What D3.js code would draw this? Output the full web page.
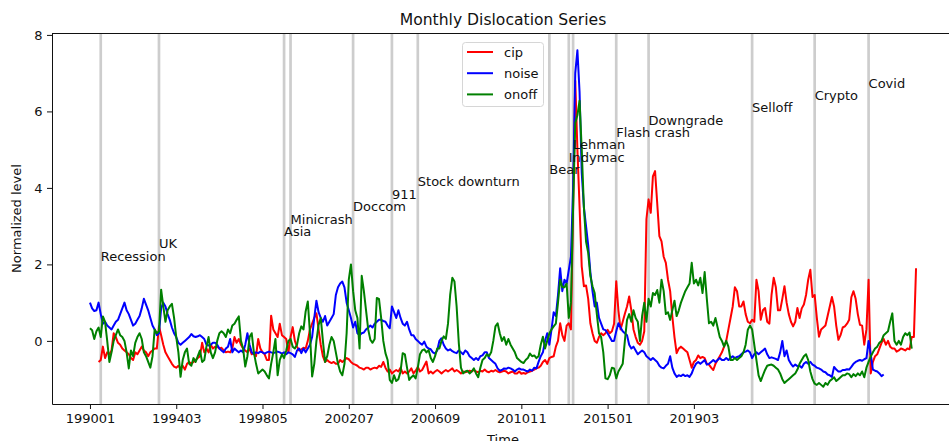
<!DOCTYPE html>
<html>
<head>
<meta charset="utf-8">
<script src="https://cdn.jsdelivr.net/npm/d3@7"></script>
<style>
  body { margin: 0; background: #fff; }
  svg { display: block; font-family: "DejaVu Sans", sans-serif; }
</style>
</head>
<body>
<svg id="chart" width="949" height="441"></svg>
<script>
// Monthly series, index 0 = 1990-01; one row per calendar year.
const tickMonths = [0, 40, 80, 120, 160, 200, 240, 280];
const tickLabels = ["199001", "199403", "199805", "200207", "200609", "201011", "201501", "201903"];
const yTicks = [0, 2, 4, 6, 8];

const cip = [
  null, null, null, null, -0.55, -0.5, -0.15, -0.45, -0.3, -0.35, -0.25, 0.2,
  0.1, -0.05, -0.1, -0.2, -0.25, -0.3, -0.35, -0.45, -0.5, -0.3, -0.35, -0.25,
  -0.15, -0.25, -0.3, -0.4, -0.3, -0.25, -0.2, -0.2, 0.38, 0.15, -0.1, -0.3,
  -0.4, -0.5, -0.6, -0.67, -0.7, -0.65, -0.72, -0.65, -0.75, -0.6, -0.55, -0.6,
  -0.55, -0.5, -0.45, -0.4, -0.05, -0.3, -0.2, -0.3, -0.1, -0.2, -0.15, -0.15,
  -0.2, -0.18, -0.25, -0.3, -0.28, -0.3, -0.2, 0.1, -0.05, 0.05, -0.1, -0.2,
  -0.25, -0.3, -0.2, -0.35, -0.3, -0.4, 0.05, -0.2, -0.3, -0.35, -0.5, -0.5,
  0.66, 0.3, 0.2, 0.1, 0.45, 0.15, 0.1, 0.05, -0.3, 0.1, 0.36, 0.0,
  -0.15, -0.25, -0.22, -0.18, -0.2, 0.0, 0.3, 0.45, 0.6, 0.72, 0.3, -0.1,
  -0.4, -0.55, -0.5, -0.55, -0.58, -0.55, -0.6, -0.6, -0.5, -0.55, -0.5, -0.45,
  -0.48, -0.55, -0.6, -0.62, -0.65, -0.7, -0.72, -0.75, -0.7, -0.7, -0.75, -0.72,
  -0.7, -0.72, -0.65, -0.68, -0.55, -0.7, -0.8, -0.75, -0.85, -0.8, -0.76, -0.8,
  -0.7, -0.85, -0.8, -0.85, -0.8, -0.72, -0.85, -0.78, -0.68, -0.8, -0.76, -0.65,
  -0.54, -0.85, -0.8, -0.85, -0.8, -0.76, -0.8, -0.85, -0.8, -0.76, -0.8, -0.76,
  -0.72, -0.8, -0.76, -0.8, -0.85, -0.8, -0.82, -0.8, -0.78, -0.8, -0.76, -0.8,
  -0.82, -0.78, -0.8, -0.75, -0.8, -0.82, -0.78, -0.8, -0.76, -0.8, -0.82, -0.8,
  -0.78, -0.8, -0.85, -0.82, -0.8, -0.85, -0.85, -0.8, -0.86, -0.84, -0.86, -0.82,
  -0.8, -0.78, -0.75, -0.72, -0.7, -0.65, -0.55, -0.5, -0.6, -0.45, -0.42, -0.4,
  -0.15, 0.0, 0.46, 0.15, 0.0, 0.4, 0.46, 0.3, 3.5, 6.8, 5.0, 3.5,
  1.95, 1.43, 1.45, 1.1, 0.46, 0.2, 0.0, -0.05, 0.1, 0.2, 0.15, 0.2,
  0.29, 0.2, 0.25, 0.45, 1.56, 0.8, 0.3, 0.5, 0.71, 0.9, 1.16, 0.8,
  0.3, 0.1, -0.05, -0.1, 0.0, 0.25, 3.18, 3.7, 3.35, 4.3, 4.44, 3.6,
  2.74, 2.6, 2.2, 2.04, 1.6, 1.3, 0.64, 0.1, -0.32, -0.2, -0.15, -0.2,
  -0.25, -0.3, -0.5, -0.7, -0.55, -0.5, -0.38, -0.45, -0.42, -0.45, -0.6, -0.62,
  -0.7, -0.76, -0.6, -0.5, -0.4, -0.3, -0.15, 0.0, 0.3, 0.6, 0.9, 1.4,
  1.3, 0.9, 0.9, 1.03, 0.7, 0.5, 0.46, 0.55, 0.5, 1.6, 1.3, 0.55,
  0.8, 0.86, 0.5, 0.45, 1.2, 1.65, 1.4, 0.8, 0.8, 1.1, 1.43, 1.0,
  0.7, 0.5, 0.38, 0.5, 0.86, 0.6, 0.85, 0.95, 1.2, 1.6, 1.86, 1.15,
  1.2, 0.6, 0.11, 0.3, 0.35, 0.4, 0.65, 0.9, 1.15, 0.9, 0.4, 0.03,
  0.15, 0.35, 0.38, 0.45, 0.55, 1.14, 1.3, 1.1, 0.7, 0.42, 0.4, -0.1,
  0.3, 1.6, -0.85, -0.55, -0.4, -0.35, -0.2, -0.05, 0.05, -0.1, 0.0, -0.15,
  -0.2, -0.2, -0.28, -0.25, -0.2, -0.22, -0.25, -0.2, -0.22, 0.1, 0.1, 1.9
];

const noise = [
  1.0, 0.85, 0.78, 0.8, 1.0, 0.7, 0.45, 0.5, 0.4, 0.35, 0.3, 0.4,
  0.5, 0.55, 0.7, 0.85, 1.0, 0.8, 0.7, 0.55, 0.4, 0.45, 0.55, 0.65,
  0.85, 1.1, 0.95, 0.8, 0.6, 0.4, 0.3, 0.15, 0.2, 0.85, 1.0, 0.9,
  0.7, 0.55, 0.35, 0.2, 0.1, -0.05, -0.1, -0.05, 0.0, 0.05, 0.1, 0.18,
  0.12, 0.1, 0.12, 0.15, 0.1, 0.05, -0.1, -0.12, -0.1, -0.05, -0.05, -0.1,
  -0.2, -0.25, -0.3, -0.2, -0.15, 0.05, -0.3, -0.2, -0.25, -0.3, -0.25, -0.3,
  -0.1, 0.2, -0.1, -0.3, -0.35, -0.3, -0.32, -0.28, -0.3, -0.33, -0.3, -0.28,
  -0.3, -0.32, -0.3, -0.28, -0.3, -0.33, -0.3, -0.35, -0.3, -0.32, -0.35, -0.42,
  -0.25, -0.2, -0.32, -0.2, -0.3, -0.2, -0.1, 0.1, 0.6, 1.05, 0.75, 0.6,
  0.5, 0.65, 0.4, 0.5, 0.6, 0.7, 1.2, 1.4, 1.5, 1.55, 1.4, 1.0,
  0.8, 0.6, 0.35, 0.5, 0.2, 0.15, 0.2, 0.22, 0.3, 0.35, 0.4, 0.35,
  0.45, 0.5, 0.55, 0.55, 0.52, 0.5, 0.4, 0.33, 0.9, 0.75, 0.6, 0.8,
  0.6, 0.45, 0.4, 0.5, 0.3, 0.15, 0.15, 0.05, 0.0, -0.06, -0.1, -0.02,
  -0.15, -0.2, -0.22, -0.3, -0.33, -0.25, 0.0, 0.07, -0.1, -0.2, -0.25, -0.22,
  -0.27, -0.3, -0.32, -0.25, -0.3, -0.35, -0.25, -0.3, -0.4, -0.45, -0.5, -0.45,
  -0.5, -0.4, -0.38, -0.3, -0.3, -0.45, -0.5, -0.55, -0.6, -0.72, -0.78, -0.76,
  -0.72, -0.73, -0.7, -0.72, -0.75, -0.8, -0.75, -0.72, -0.75, -0.75, -0.78, -0.8,
  -0.75, -0.78, -0.7, -0.72, -0.55, -0.4, -0.3, 0.0, 0.2, -0.1, 0.3, 0.75,
  0.65, 1.2, 1.9, 1.3, 1.6, 1.5, 1.85, 2.2, 4.0, 7.0, 7.6, 6.5,
  4.4, 3.5, 3.0, 2.5, 1.8, 1.3, 0.9, 1.0, 0.6, 0.45, 0.3, 0.28,
  0.2, 0.1, 0.0, 0.0, 0.25, 0.46, 0.35, 0.25, 0.2, 0.15, -0.1, -0.2,
  -0.15, -0.25, -0.35, -0.3, -0.25, -0.3, -0.4, -0.45, -0.5, -0.45, -0.5, -0.55,
  -0.65, -0.7, -0.72, -0.65, -0.6, -0.4, -0.7, -0.85, -0.94, -0.9, -0.92, -0.88,
  -0.92, -0.9, -0.94, -0.85, -0.7, -0.6, -0.55, -0.6, -0.55, -0.5, -0.62, -0.6,
  -0.55, -0.5, -0.55, -0.5, -0.45, -0.5, -0.5, -0.45, -0.5, -0.45, -0.4, -0.45,
  -0.42, -0.4, -0.35, -0.3, -0.28, -0.25, -0.3, -0.45, -0.35, -0.3, -0.35, -0.3,
  -0.25, -0.2, -0.35, -0.45, -0.43, -0.45, -0.47, -0.5, -0.3, 0.0, -0.4, -0.25,
  -0.5, -0.6, -0.67, -0.62, -0.66, -0.65, -0.7, -0.6, -0.55, -0.6, -0.55, -0.62,
  -0.65, -0.7, -0.72, -0.75, -0.8, -0.82, -0.88, -0.9, -0.94, -0.68, -0.75, -0.8,
  -0.8, -0.76, -0.76, -0.74, -0.75, -0.68, -0.6, -0.55, -0.52, -0.5, -0.52, -0.48,
  -0.45, 0.0, -0.35, -0.75, -0.78, -0.8, -0.85, -0.92, -0.88
];

const onoff = [
  0.33, 0.28, 0.05, 0.25, 0.35, 0.1, 0.64, 0.5, 0.0, -0.55, -0.3, 0.0,
  0.15, 0.3, 0.15, 0.1, 0.0, -0.3, -0.72, -0.25, -0.4, -0.05, 0.1, 0.2,
  0.05, -0.3, -0.4, -0.55, -0.7, -0.4, 0.3, 0.2, 0.25, 1.34, 0.9, 0.5,
  0.8, 0.9, 0.97, 0.6, 0.1, -0.3, -0.94, -0.5, -0.3, -0.2, -0.6, -0.65,
  -0.45, -0.55, -0.4, -0.25, -0.55, -0.5, -0.15, 0.1, -0.3, -0.45, -0.3, 0.0,
  0.2, 0.25, 0.2, 0.1, 0.3, 0.2, 0.4, 0.45, 0.55, 0.64, 0.0, -0.2,
  -0.67, -0.4, 0.1, 0.2, -0.3, -0.6, -0.85, -0.8, -0.75, -0.8, -0.9, -0.98,
  -0.6, -0.3, 0.05, -0.9, -0.5, -0.35, -0.45, -0.25, 0.0, 0.05, -0.15, -0.2,
  -0.1, 0.2, 0.38, 0.3, 0.77, 1.03, 0.2, -0.93, -0.6, 0.0, 0.42, 0.6,
  0.0, -0.55, -0.4, -0.1, 0.1, 0.0, -0.3, -0.6, -0.8, -0.9, -0.6, 0.2,
  1.6, 2.0, 1.3, 0.8, 0.6, -0.2, 1.7, 1.3, 0.8, 0.3, 0.03, -0.05,
  0.05, 1.12, 1.1, 0.6, 0.0, -0.32, -0.5, -1.02, -1.1, -0.9, -1.05, -1.0,
  -0.8, -0.32, -0.35, -0.7, -1.02, -0.95, -0.9, -0.98, -0.7, -0.35, -0.25, -0.22,
  -0.3, -0.24, -0.45, -0.55, -0.4, -0.2, -0.2, 0.0, 0.12, 0.05, 0.45, 1.2,
  1.65, 1.55, 0.9, -0.05, -0.7, -0.85, -0.8, -0.78, -0.85, -0.8, -0.72, -0.85,
  -0.95, -0.7, -0.5, -0.45, -0.35, -0.4, -0.3, 0.0, 0.38, 0.46, 0.2, 0.0,
  0.1, -0.1, 0.05, -0.1, -0.2, -0.3, -0.45, -0.5, -0.55, -0.58, -0.5, -0.45,
  -0.33, -0.4, -0.38, -0.45, -0.4, -0.1, 0.11, -0.2, 0.0, 0.2, 0.3, 0.38,
  0.45, 1.0, 1.6, 1.4, 1.4, 1.5, 0.6, 1.0, 3.5, 5.7, 5.9, 6.28,
  5.0, 3.5, 2.6, 2.3, 1.7, 1.43, 1.25, 0.7, 0.2, 0.1, -0.3, -0.98,
  -1.0, -0.9, -0.7, -0.72, -0.98, -0.8, -0.7, -0.6, 0.0, 0.55, 0.7, 0.5,
  0.8, 0.6, 0.5, 0.0, 0.65, 1.0, 0.5, 1.1, 0.9, 1.25, 1.2, 1.33,
  1.0, 1.6, 1.3, 0.7, 0.75, 0.55, 0.8, 1.05, 0.65, 0.8, 1.0, 1.15,
  1.3, 1.4, 1.5, 2.04, 1.5, 1.6, 1.45, 1.65, 1.25, 1.8, 1.1, 0.46,
  0.5, 0.4, 0.6, 0.35, 0.1, 0.0, -0.15, 0.0, -0.15, -0.5, -0.5, -0.45,
  -0.5, -0.45, -0.4, -0.3, -0.1, 0.29, 0.4, 0.3, -0.1, -0.5, -0.9, -1.05,
  -0.9, -0.76, -0.65, -0.63, -0.62, -0.65, -0.7, -0.75, -0.85, -1.0, -1.1, -1.05,
  -1.0, -0.95, -0.9, -0.85, -0.75, -0.6, -0.5, -0.4, -0.35, -0.5, -0.8, -1.0,
  -1.12, -1.15, -1.1, -1.15, -1.2, -1.1, -1.15, -1.05, -1.0, -0.95, -1.05, -1.0,
  -0.95, -0.9, -0.9, -0.85, -0.87, -0.95, -0.87, -0.92, -0.85, -0.9, -0.8, -0.95,
  -0.7, -0.55, -0.41, -0.3, -0.2, -0.15, -0.05, 0.0, 0.15, 0.2, 0.25, 0.5,
  0.72, 0.0, -0.1, 0.0, -0.1, 0.1, 0.2, 0.15, 0.22, -0.2
];

// Marked market events (month index) and their annotation text
const eventNames = ["Recession", "UK", "Asia", "Minicrash", "Doccom", "911", "Stock downturn",
  "Bear", "Indymac", "Lehman", "Flash crash", "Downgrade", "Selloff", "Crypto", "Covid"];
const eventMonths = [5, 32, 90, 93, 122, 140, 152, 213, 222, 224, 244, 259, 307, 336, 361];

const seriesNames = ["cip", "noise", "onoff"];
const seriesColors = ["#ff0000", "#0000ff", "#008000"];
const seriesData = [cip, noise, onoff];

// ---- layout ----
const svg = d3.select("#chart");
const plot = { left: 52, right: 954, top: 33, bottom: 404 };
const ink = "#111";

const x = d3.scaleLinear().domain([-17.6, 400.6]).range([plot.left, plot.right]);
const y = d3.scaleLinear().domain([-1.65, 8.05]).range([plot.bottom, plot.top]);

svg.append("rect").attr("width", 949).attr("height", 441).attr("fill", "#fff");

svg.append("defs").append("clipPath").attr("id", "clip")
  .append("rect").attr("x", plot.left).attr("y", plot.top)
  .attr("width", plot.right - plot.left).attr("height", plot.bottom - plot.top);

const g = svg.append("g").attr("clip-path", "url(#clip)");

// event lines (behind the series)
g.selectAll("line.event").data(eventMonths).join("line")
  .attr("class", "event")
  .attr("x1", d => x(d)).attr("x2", d => x(d))
  .attr("y1", plot.top).attr("y2", plot.bottom)
  .attr("stroke", "#cdcdcd").attr("stroke-width", 2.7);

// series
const line = d3.line()
  .defined(d => d.v != null)
  .x(d => x(d.m)).y(d => y(d.v));

seriesData.forEach((arr, i) => {
  g.append("path")
    .datum(arr.map((v, m) => ({ m, v })))
    .attr("fill", "none")
    .attr("stroke", seriesColors[i])
    .attr("stroke-width", 2)
    .attr("stroke-linejoin", "round")
    .attr("d", line);
});

// event annotations, stepping upward one after another
eventNames.forEach((name, i) => {
  svg.append("text")
    .attr("x", x(eventMonths[i]))
    .attr("y", y(2.1 + i * 0.323))
    .attr("font-size", 13)
    .attr("fill", ink)
    .text(name);
});

// axes
const xAxis = d3.axisBottom(x)
  .tickValues(tickMonths)
  .tickFormat((d, i) => tickLabels[i])
  .tickSize(5).tickPadding(4.5).tickSizeOuter(0);
const yAxis = d3.axisLeft(y)
  .tickValues(yTicks)
  .tickSize(5).tickPadding(4.5).tickSizeOuter(0);

const gx = svg.append("g").attr("transform", `translate(0,${plot.bottom})`).call(xAxis);
const gy = svg.append("g").attr("transform", `translate(${plot.left},0)`).call(yAxis);
[gx, gy].forEach(a => {
  a.selectAll("text").attr("font-size", 13).attr("font-family", "DejaVu Sans").attr("fill", ink);
  a.selectAll("line").attr("stroke", ink);
  a.select(".domain").attr("stroke", ink);
});

// top spine
svg.append("line")
  .attr("x1", plot.left).attr("x2", plot.right)
  .attr("y1", plot.top + 0.5).attr("y2", plot.top + 0.5)
  .attr("stroke", ink);

// titles
svg.append("text")
  .attr("x", (plot.left + plot.right) / 2).attr("y", 25)
  .attr("text-anchor", "middle").attr("font-size", 15.6).attr("fill", ink)
  .text("Monthly Dislocation Series");
svg.append("text")
  .attr("x", (plot.left + plot.right) / 2).attr("y", 444)
  .attr("text-anchor", "middle").attr("font-size", 13).attr("fill", ink)
  .text("Time");
svg.append("text")
  .attr("transform", `translate(21,${(plot.top + plot.bottom) / 2}) rotate(-90)`)
  .attr("text-anchor", "middle").attr("font-size", 13).attr("fill", ink)
  .text("Normalized level");

// legend
const lg = svg.append("g").attr("transform", "translate(462,42)");
lg.append("rect")
  .attr("x", 0.5).attr("y", 0.5).attr("width", 81).attr("height", 64).attr("rx", 3)
  .attr("fill", "#fff").attr("fill-opacity", 0.8)
  .attr("stroke", "#d6d6d6");
seriesNames.forEach((name, i) => {
  const yy = 10 + i * 21.2;
  lg.append("line").attr("x1", 5).attr("x2", 31).attr("y1", yy).attr("y2", yy)
    .attr("stroke", seriesColors[i]).attr("stroke-width", 2);
  lg.append("text").attr("x", 42).attr("y", yy + 4.6)
    .attr("font-size", 13).attr("fill", ink).text(name);
});
</script>
</body>
</html>
